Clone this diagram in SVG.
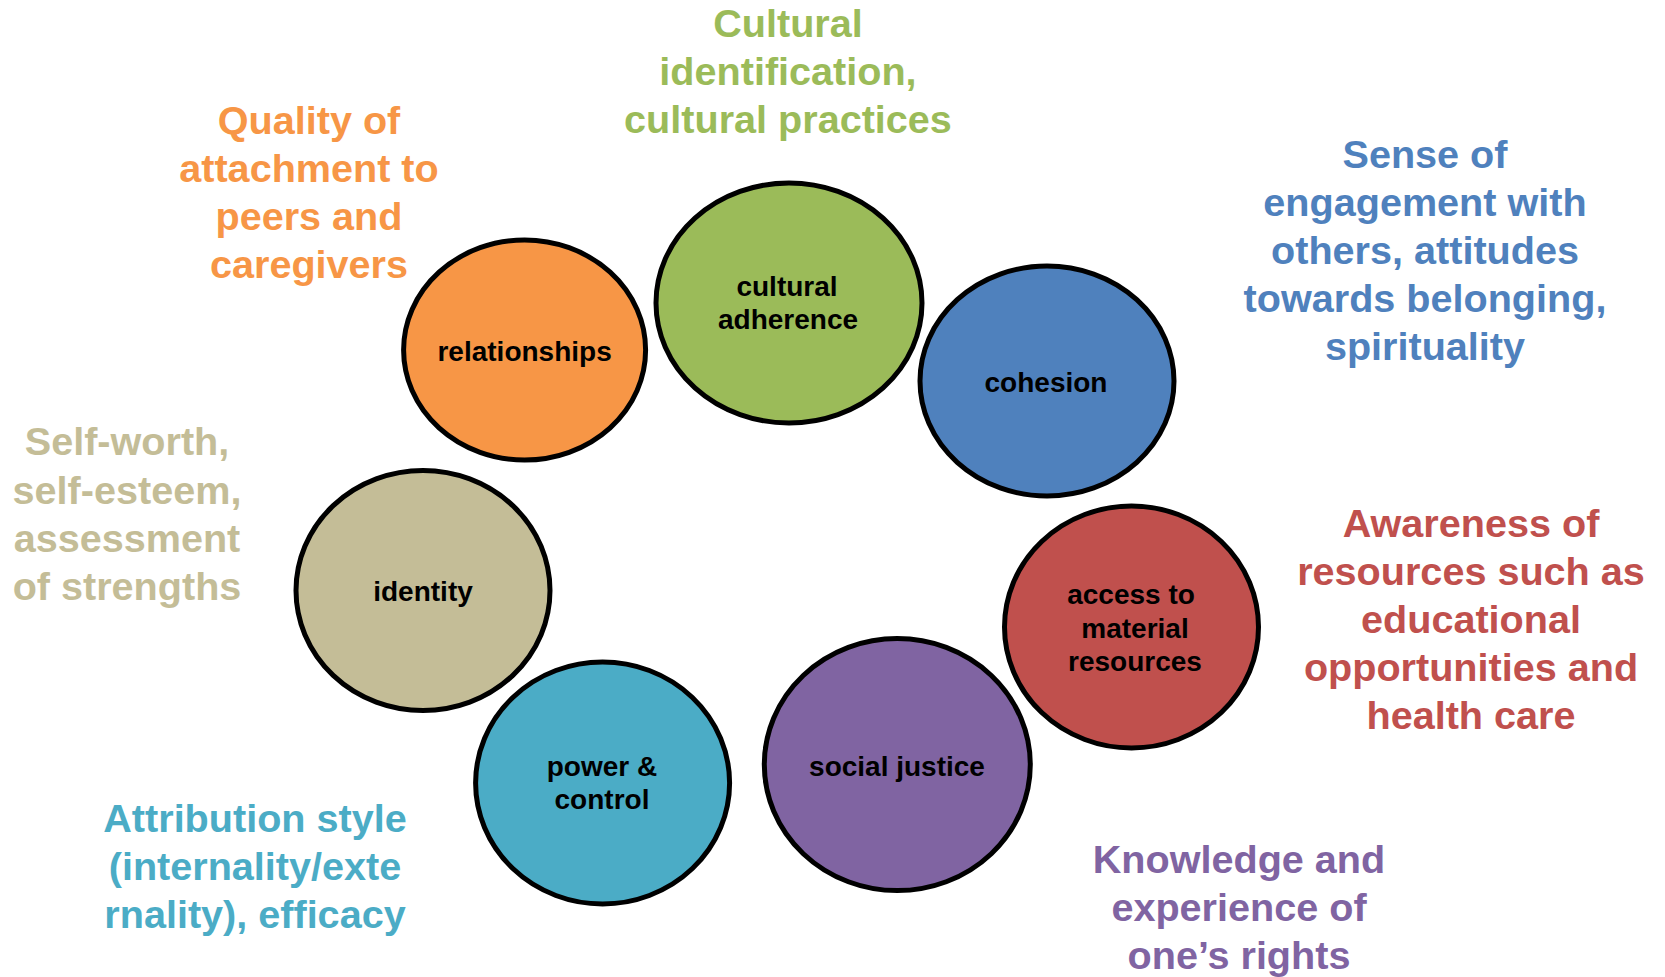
<svg xmlns="http://www.w3.org/2000/svg" width="1665" height="977" viewBox="0 0 1665 977">
<style>
.node ellipse{stroke:#000;stroke-width:5}
.node text{font-family:"Liberation Sans",Arial,sans-serif;font-weight:bold;font-size:28px;fill:#000;text-anchor:middle}
.lbl{font-family:"Liberation Sans",Arial,sans-serif;font-weight:bold;font-size:39.6px;text-anchor:middle}
</style>
<rect width="1665" height="977" fill="#fff"/>
<g id="connectors"></g>
<g id="n-relationships" class="node"><ellipse cx="524.6" cy="350" rx="121" ry="110" fill="#F79646"/><text x="524.6" y="361">relationships</text></g>
<g id="n-cultural" class="node"><ellipse cx="789" cy="303" rx="133" ry="120" fill="#9BBB59"/><text x="787" y="296">cultural</text><text x="788" y="329">adherence</text></g>
<g id="n-cohesion" class="node"><ellipse cx="1047" cy="381" rx="127" ry="115" fill="#4F81BD"/><text x="1046" y="392">cohesion</text></g>
<g id="n-access" class="node"><ellipse cx="1131.5" cy="627" rx="127" ry="121" fill="#C0504D"/><text x="1131" y="604">access to</text><text x="1135" y="638">material</text><text x="1135" y="671">resources</text></g>
<g id="n-identity" class="node"><ellipse cx="423" cy="590.5" rx="127" ry="120" fill="#C4BD97"/><text x="423" y="601">identity</text></g>
<g id="n-power" class="node"><ellipse cx="602.6" cy="783" rx="127" ry="121" fill="#4BACC6"/><text x="602" y="776">power &amp;</text><text x="602" y="809">control</text></g>
<g id="n-social" class="node"><ellipse cx="897.3" cy="764.6" rx="133" ry="126" fill="#8064A2"/><text x="897" y="776">social justice</text></g>
<g id="labels">
<text class="lbl" fill="#F79646" x="309" y="134">Quality of<tspan x="309" y="182">attachment to</tspan><tspan x="309" y="230">peers and</tspan><tspan x="309" y="278">caregivers</tspan></text>
<text class="lbl" fill="#9BBB59" x="788" y="37">Cultural<tspan x="788" y="85">identification,</tspan><tspan x="788" y="133">cultural practices</tspan></text>
<text class="lbl" fill="#4F81BD" x="1425" y="168">Sense of<tspan x="1425" y="216">engagement with</tspan><tspan x="1425" y="264">others, attitudes</tspan><tspan x="1425" y="312">towards belonging,</tspan><tspan x="1425" y="360">spirituality</tspan></text>
<text class="lbl" fill="#C0504D" x="1471" y="537">Awareness of<tspan x="1471" y="585">resources such as</tspan><tspan x="1471" y="633">educational</tspan><tspan x="1471" y="681">opportunities and</tspan><tspan x="1471" y="729">health care</tspan></text>
<text class="lbl" fill="#C4BD97" x="127" y="455">Self-worth,<tspan x="127" y="504">self-esteem,</tspan><tspan x="127" y="552">assessment</tspan><tspan x="127" y="600">of strengths</tspan></text>
<text class="lbl" fill="#4BACC6" x="255" y="832">Attribution style<tspan x="255" y="880">(internality/exte</tspan><tspan x="255" y="928">rnality), efficacy</tspan></text>
<text class="lbl" fill="#8064A2" x="1239" y="873">Knowledge and<tspan x="1239" y="921">experience of</tspan><tspan x="1239" y="969">one’s rights</tspan></text>
</g>
</svg>
